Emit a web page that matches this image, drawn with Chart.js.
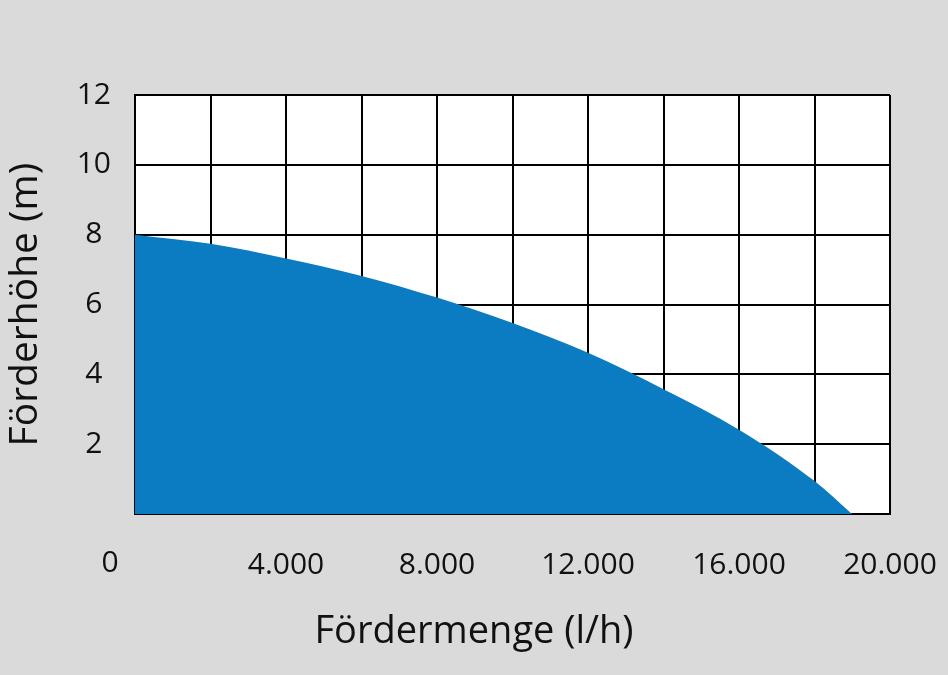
<!DOCTYPE html>
<html>
<head>
<meta charset="utf-8">
<script src="https://cdn.jsdelivr.net/npm/chart.js@4.4.1/dist/chart.umd.min.js"></script>
<style>
  html, body { margin: 0; padding: 0; background: #dadada; }
  #wrap { width: 948px; height: 675px; }
</style>
</head>
<body>
<div id="wrap"><canvas id="c" width="948" height="675"></canvas></div>
<script>
// Data
const flowValues = [0, 2000, 4000, 6000, 8000, 10000, 12000, 14000, 16000, 18000, 19000];
const headValues = [8.0, 7.74, 7.32, 6.82, 6.2, 5.47, 4.62, 3.58, 2.42, 0.95, 0];
const xTickLabels = { 0: '0', 4000: '4.000', 8000: '8.000', 12000: '12.000', 16000: '16.000', 20000: '20.000' };
const yTickLabels = { 2: '2', 4: '4', 6: '6', 8: '8', 10: '10', 12: '12' };
const xTitle = 'Fördermenge (l/h)';
const yTitle = 'Förderhöhe (m)';

const FONT = "'Open Sans', 'Noto Sans', sans-serif";
const points = flowValues.map((x, i) => ({ x: x, y: headValues[i] }));

const plotBg = {
  id: 'plotBg',
  beforeDraw(chart) {
    const { ctx, chartArea: a } = chart;
    ctx.save();
    ctx.fillStyle = '#ffffff';
    ctx.fillRect(a.left, a.top, a.right - a.left, a.bottom - a.top);
    ctx.restore();
  },
  afterDraw(chart) {
    // the "0" label sits left of the axis start in the reference
    const { ctx } = chart;
    const xs = chart.scales.x;
    ctx.save();
    ctx.font = "30px " + FONT;
    ctx.fillStyle = '#111111';
    ctx.textAlign = 'center';
    ctx.textBaseline = 'middle';
    ctx.fillText(xTickLabels[0], xs.getPixelForValue(0) - 25, 563);
    ctx.restore();
  }
};

new Chart(document.getElementById('c'), {
  type: 'line',
  data: {
    datasets: [{
      data: points,
      fill: 'origin',
      backgroundColor: '#0b7cc2',
      borderColor: '#0b7cc2',
      borderWidth: 0,
      pointRadius: 0,
      cubicInterpolationMode: 'monotone'
    }]
  },
  options: {
    responsive: false,
    animation: false,
    layout: { padding: { top: 95, left: 0, right: 0, bottom: 0 } },
    plugins: {
      legend: { display: false },
      tooltip: { enabled: false },
      title: {
        display: true,
        text: xTitle,
        position: 'bottom',
        color: '#111111',
        font: { family: FONT, size: 38, weight: 'normal' },
        padding: { top: 0, bottom: 20 }
      }
    },
    scales: {
      x: {
        type: 'linear',
        min: 0, max: 20000,
        z: 1,
        afterFit(s) { s.height = 95.2; s.paddingRight = 0; s.paddingLeft = 0; },
        ticks: {
          stepSize: 2000,
          autoSkip: false,
          maxRotation: 0,
          padding: 33,
          color: '#111111',
          font: { family: FONT, size: 30 },
          callback: v => (v === 0 ? '' : (xTickLabels[v] || ''))
        },
        grid: { color: '#000000', lineWidth: 2, drawTicks: false },
        border: { color: '#000000', width: 2 }
      },
      y: {
        type: 'linear',
        min: 0, max: 12,
        z: 1,
        afterFit(s) { s.width = 135; s.paddingTop = 0; s.paddingBottom = 0; },
        title: {
          display: true,
          text: yTitle,
          color: '#111111',
          font: { family: FONT, size: 39, weight: 'normal' },
          padding: { top: 2, bottom: 0 }
        },
        ticks: {
          stepSize: 2,
          crossAlign: 'center',
          padding: 24,
          color: '#111111',
          font: { family: FONT, size: 30 },
          callback: v => (yTickLabels[v] || '')
        },
        grid: { color: '#000000', lineWidth: 2, drawTicks: false },
        border: { color: '#000000', width: 2 }
      },
      yr: {
        type: 'linear',
        position: 'right',
        display: true,
        afterFit(s) { s.width = 58; s.paddingTop = 0; s.paddingBottom = 0; },
        ticks: { display: false },
        grid: { display: false, drawTicks: false },
        border: { display: false }
      }
    }
  },
  plugins: [plotBg]
});
</script>
</body>
</html>
